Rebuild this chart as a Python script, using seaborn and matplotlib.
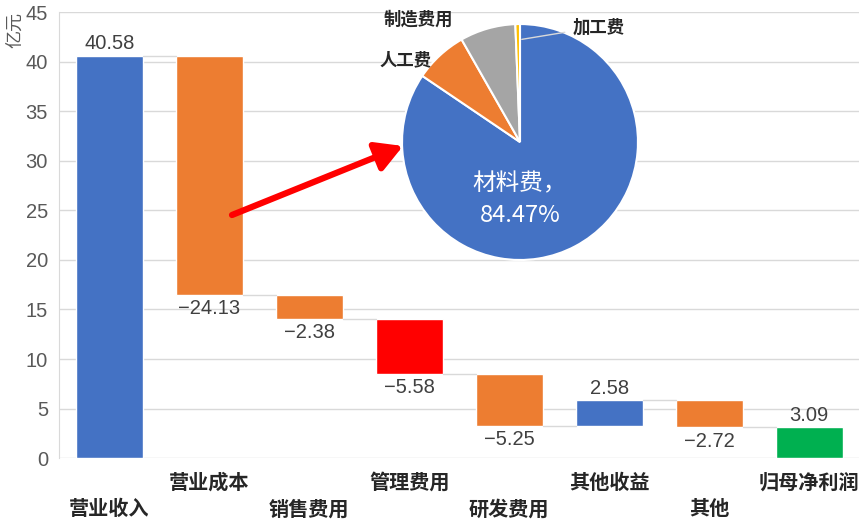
import matplotlib.pyplot as plt
import seaborn as sns
import numpy as np

categories = ['营业收入', '营业成本', '销售费用', '管理费用', '研发费用', '其他收益', '其他', '归母净利润']
changes = [40.58, -24.13, -2.38, -5.58, -5.25, 2.58, -2.72, 3.09]
is_total = [True, False, False, False, False, False, False, True]
bar_colors = ['#4472C4', '#ED7D31', '#ED7D31', '#FF0000', '#ED7D31', '#4472C4', '#ED7D31', '#00B050']

cost_items = ['材料费', '人工费', '制造费用', '加工费']
cost_share = [84.47, 7.29, 7.61, 0.63]
pie_colors = ['#4472C4', '#ED7D31', '#A5A5A5', '#FFC000']

sns.set_style('white')
plt.rcParams['font.family'] = ['Noto Sans CJK SC', 'DejaVu Sans']
num_font = ['Liberation Sans', 'DejaVu Sans']

# floating bar geometry for the waterfall
bottoms, tops, levels = [], [], []
level = 0.0
for v, tot in zip(changes, is_total):
    if tot:
        bottoms.append(0.0)
        tops.append(v)
        level = v
    else:
        new = level + v
        bottoms.append(min(level, new))
        tops.append(max(level, new))
        level = new
    levels.append(level)
heights = np.array(tops) - np.array(bottoms)

fig = plt.figure(figsize=(8.64, 5.29), dpi=100)
ax = fig.add_axes([0.0685, 0.134, 0.926, 0.843])

bw = 0.67
sns.barplot(x=categories, y=heights, hue=categories, palette=bar_colors,
            legend=False, width=bw, saturation=1, ax=ax)
for p, b in zip(ax.patches, bottoms):
    p.set_y(b)

# connectors
for i in range(len(categories) - 1):
    ax.plot([i + bw / 2, i + 1 - bw / 2], [levels[i], levels[i]],
            color='#D9D9D9', lw=1, zorder=1)

# data labels
for i, v in enumerate(changes):
    txt = f'{v:.2f}'.replace('-', '\u2212')
    if v >= 0:
        ax.annotate(txt, (i, tops[i]), xytext=(0, 2), textcoords='offset points',
                    ha='center', va='bottom', fontsize=14.5, color='#404040', family=num_font)
    else:
        ax.annotate(txt, (i, bottoms[i]), xytext=(0, -3), textcoords='offset points',
                    ha='center', va='top', fontsize=14.5, color='#404040', family=num_font)

ax.set_xlim(-0.5, len(categories) - 0.5)
ax.set_ylim(0, 45)
ax.set_yticks(range(0, 46, 5))
ax.yaxis.grid(True, color='#D9D9D9', lw=1)
ax.set_axisbelow(True)
for s in ['top', 'right', 'bottom']:
    ax.spines[s].set_visible(False)
ax.spines['left'].set_color('#D9D9D9')
ax.set_xlabel('')
ax.set_ylabel('')
ax.tick_params(axis='y', length=0, pad=8, labelsize=14.5, labelcolor='#595959')
for lbl in ax.get_yticklabels():
    lbl.set_family(num_font)
ax.tick_params(axis='x', length=0, labelsize=14.5, labelcolor='#262626')
for lbl in ax.get_xticklabels():
    lbl.set_fontweight('bold')
for i, t in enumerate(ax.xaxis.get_major_ticks()):
    t.set_pad(10 if i % 2 else 29)

fig.text(0.007, 0.978, '亿元', rotation=90, ha='left', va='top', fontsize=13, color='#595959')

# cost structure pie
pax = fig.add_axes([0.4653, 0.5085, 0.2731, 0.4461])
pax.pie(cost_share, colors=pie_colors, startangle=90, counterclock=False,
        wedgeprops=dict(edgecolor='white', linewidth=1.5))
pax.set_xlim(-1, 1)
pax.set_ylim(-1, 1)
pax.set_aspect('equal')
pax.text(0, -0.49, f'{cost_items[0]}，\n{cost_share[0]:.2f}%', ha='center', va='center',
         color='white', fontsize=17, linespacing=1.5)
pax.text(-0.97, 0.69, cost_items[1], ha='center', va='center', fontsize=12.5, fontweight='bold')
pax.text(-0.86, 1.04, cost_items[2], ha='center', va='center', fontsize=12.5, fontweight='bold')
pax.text(0.67, 0.97, cost_items[3], ha='center', va='center', fontsize=12.5, fontweight='bold')
pax.plot([0.015, 0.38], [0.87, 0.93], color='#D9D9D9', lw=1, clip_on=False)

# arrow from cost bar to pie
ax.annotate('', xy=(403 / 864, 1 - 146 / 529), xytext=(232 / 864, 1 - 215 / 529),
            xycoords='figure fraction', textcoords='figure fraction',
            arrowprops=dict(arrowstyle='-|>,head_length=0.8,head_width=0.45',
                            mutation_scale=20, color='#FF0000', lw=4.5,
                            shrinkA=0, shrinkB=0))

fig.savefig('out.png', dpi=100)
